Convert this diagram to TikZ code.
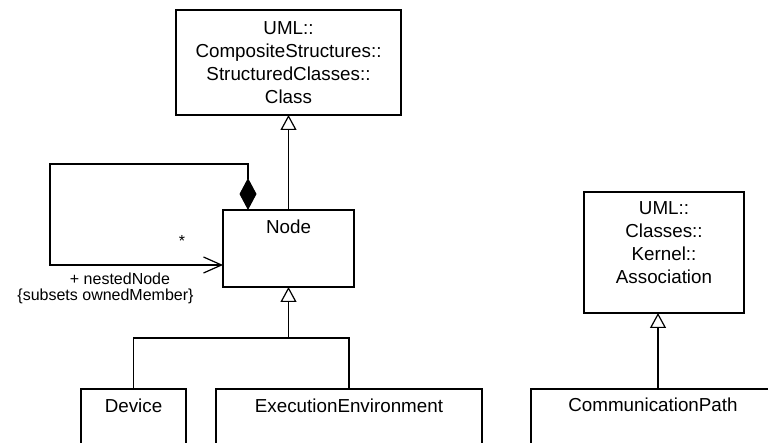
\documentclass[tikz,border=0pt]{standalone}
\usepackage{fontspec}
\setmainfont{Liberation Sans}
\usetikzlibrary{arrows.meta}
\begin{document}
\begin{tikzpicture}[x=1pt,y=1pt,
  cbox/.style={draw, line width=1.2pt, fill=white, inner sep=0pt, outer sep=0pt},
  ctext/.style={font=\fontsize{18.8}{23}\selectfont, align=center, inner sep=0pt},
  ltext/.style={font=\fontsize{16}{19}\selectfont, inner sep=0pt},
  gen/.style={line width=1.2pt, -{Triangle[open,length=15pt,width=16pt,fill=white]}},
  conn/.style={line width=1.2pt}]
\useasboundingbox (0,0) rectangle (768,-443);
\clip (0,0) rectangle (768,-443);
% boxes
\node[cbox, minimum width=225pt, minimum height=105pt] (cls) at (288.5,-62.5) {};
\node[cbox, minimum width=131pt, minimum height=77pt] (node) at (288.5,-248.5) {};
\node[cbox, minimum width=105pt, minimum height=71pt] (dev) at (133.5,-424.5) {};
\node[cbox, minimum width=266pt, minimum height=71pt] (ee) at (349,-424.5) {};
\node[cbox, minimum width=160pt, minimum height=121pt] (assoc) at (664,-252.5) {};
\node[cbox, minimum width=254pt, minimum height=71pt] (cp) at (658,-424.5) {};
% texts
\node[ctext, anchor=north] (clst) at (288.5,-21.2) {UML::\\CompositeStructures::\\StructuredClasses::\\Class};
\node[ctext, anchor=north] (asst) at (664,-201.2) {UML::\\Classes::\\Kernel::\\Association};
\node[ctext, anchor=base] (nodet) at (288.5,-233.7) {Node};
\node[ctext, anchor=base] (devt) at (133.5,-412.7) {Device};
\node[ctext, anchor=base] (eet) at (349,-412.7) {ExecutionEnvironment};
\node[ctext, anchor=base] (cpt) at (653,-411.7) {CommunicationPath};
\node[ltext, anchor=base] (mult) at (182,-247) {*};
\node[ltext, anchor=base] (role) at (120,-285) {+ nestedNode};
\node[ltext, anchor=base] (subs) at (105.5,-301) {\{subsets ownedMember\}};
% generalizations
\draw[gen] (node.north) -- (cls.south);
\coordinate (jn) at (288.5,-338);
\draw[conn] (dev.north) |- (jn) -| (ee.north);
\draw[gen] (jn) -- (node.south);
\draw[gen] (cp.north) -- (assoc.south -| cp.north);
% composite self association
\coordinate (lp) at (50,-164);
\draw[conn, {Diamond[length=32pt,width=17pt]}-{Straight Barb[length=18pt,width=16pt]}]
  ([xshift=-40.5pt]node.north) |- (lp) |- ([yshift=-16.5pt]node.west);
\end{tikzpicture}
\end{document}
